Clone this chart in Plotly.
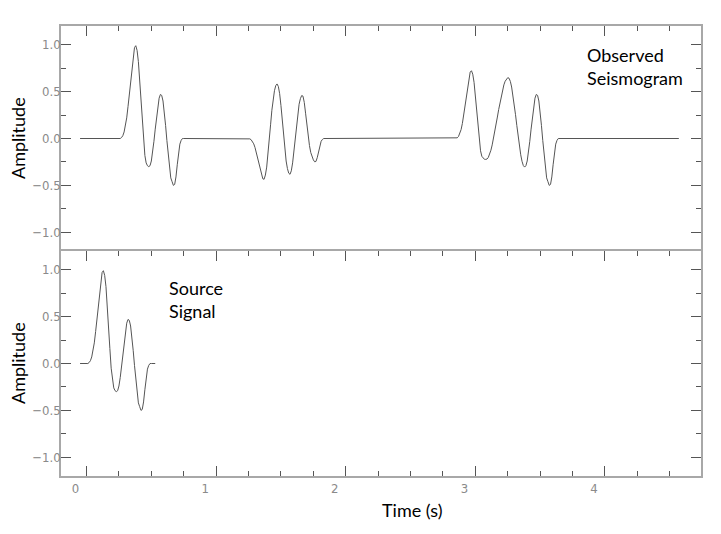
import plotly.graph_objects as go
from plotly.subplots import make_subplots

# ---------------- data ----------------
dt = 0.01  # sampling interval of the traces (s)

# Source signal samples, starting at t = 0.00 s
source_start = 0.0
source_values = [0, 0, 0.01, 0.03, 0.07, 0.13, 0.22, 0.34, 0.48, 0.62,
                 0.76, 0.88, 0.97, 0.99, 0.94, 0.82, 0.63, 0.40, 0.16, -0.05,
                 -0.18, -0.26, -0.29, -0.30, -0.29, -0.24, -0.15, -0.03, 0.10, 0.23,
                 0.35, 0.43, 0.47, 0.46, 0.40, 0.29, 0.14, -0.02, -0.18, -0.32,
                 -0.42, -0.46, -0.50, -0.49, -0.41, -0.28, -0.15, -0.06, -0.02, 0,
                 0]
source_first_time = -0.05
source_last_time = 0.53

# Observed seismogram: flat trace with three events
obs_first_time = -0.05
obs_last_time = 4.57

event1_start = 0.25
event1_values = [0, 0, 0.01, 0.03, 0.07, 0.13, 0.22, 0.34, 0.48, 0.62,
                 0.76, 0.88, 0.97, 0.99, 0.94, 0.82, 0.63, 0.40, 0.16, -0.05,
                 -0.18, -0.26, -0.29, -0.30, -0.29, -0.24, -0.15, -0.03, 0.10, 0.23,
                 0.35, 0.43, 0.47, 0.46, 0.40, 0.29, 0.14, -0.02, -0.18, -0.32,
                 -0.42, -0.46, -0.50, -0.49, -0.41, -0.28, -0.15, -0.06, -0.02, 0,
                 0]

event2_start = 1.24
event2_values = [0, 0, -0.004, -0.013, -0.031, -0.057, -0.097, -0.150, -0.211, -0.273,
                 -0.334, -0.387, -0.430, -0.435, -0.390, -0.305, -0.178, -0.023, 0.146, 0.301,
                 0.421, 0.510, 0.564, 0.582, 0.555, 0.478, 0.352, 0.193, 0.028, -0.124,
                 -0.240, -0.320, -0.370, -0.382, -0.345, -0.260, -0.140, -0.005, 0.130, 0.260,
                 0.365, 0.425, 0.458, 0.452, 0.385, 0.270, 0.135, 0.017, -0.075, -0.150,
                 -0.200, -0.228, -0.248, -0.245, -0.205, -0.140, -0.075, -0.030, -0.010, 0,
                 0]

event3_start = 2.84
event3_values = [0, 0, 0.007, 0.022, 0.051, 0.095, 0.161, 0.248, 0.350, 0.453,
                 0.555, 0.642, 0.708, 0.723, 0.686, 0.599, 0.460, 0.292, 0.117, -0.037,
                 -0.131, -0.190, -0.212, -0.222, -0.223, -0.219, -0.202, -0.170, -0.125, -0.068,
                 -0.002, 0.071, 0.149, 0.229, 0.309, 0.386, 0.457, 0.519, 0.572, 0.611,
                 0.637, 0.649, 0.643, 0.609, 0.549, 0.466, 0.366, 0.254, 0.137, 0.023,
                 -0.083, -0.174, -0.243, -0.288, -0.305, -0.29, -0.24, -0.15, -0.03, 0.10,
                 0.23, 0.35, 0.43, 0.47, 0.46, 0.40, 0.29, 0.14, -0.02, -0.18,
                 -0.32, -0.42, -0.46, -0.50, -0.49, -0.41, -0.28, -0.15, -0.06, -0.02,
                 0]

x_tick_values = [0, 1, 2, 3, 4]
x_tick_labels = ["0", "1", "2", "3", "4"]
y_tick_values = [-1.0, -0.5, 0.0, 0.5, 1.0]
y_tick_labels = ["\u22121.0", "\u22120.5", "0.0", "0.5", "1.0"]


def sample_times(start, values):
    return [round(start + i * dt, 4) for i in range(len(values))]


src_x = [source_first_time] + sample_times(source_start, source_values) + [source_last_time]
src_y = [0] + source_values + [0]

obs_x = ([obs_first_time]
         + sample_times(event1_start, event1_values)
         + sample_times(event2_start, event2_values)
         + sample_times(event3_start, event3_values)
         + [obs_last_time])
obs_y = [0] + event1_values + event2_values + event3_values + [0]

# ---------------- figure ----------------
W, H = 721, 534
ML, MR, MT, MB = 61, 20, 26, 58

fig = make_subplots(rows=2, cols=1, vertical_spacing=0)

line_style = dict(color="#555555", width=1)
fig.add_trace(go.Scatter(x=obs_x, y=obs_y, mode="lines", line=line_style,
                         hoverinfo="skip", showlegend=False), row=1, col=1)
fig.add_trace(go.Scatter(x=src_x, y=src_y, mode="lines", line=line_style,
                         hoverinfo="skip", showlegend=False), row=2, col=1)

frame_color = "#a8a8a8"
tick_color = "#555555"
tick_font = dict(family="Liberation Sans Narrow, Arial Narrow, DejaVu Sans Condensed, sans-serif",
                 size=13, color="#8a8a8a")
x_range = [-0.197, 4.741]

x_common = dict(range=x_range, tickmode="array", tickvals=x_tick_values, ticktext=x_tick_labels,
                ticks="inside", ticklen=10, tickwidth=1, tickcolor=tick_color,
                minor=dict(tickmode="linear", tick0=0, dtick=0.25, ticks="inside", ticklen=5,
                           tickwidth=1, tickcolor=tick_color, showgrid=False),
                showline=True, linecolor=frame_color, linewidth=1.5,
                showgrid=False, zeroline=False, tickfont=tick_font, fixedrange=True)

y_common = dict(range=[-1.2, 1.2], tickmode="array", tickvals=y_tick_values, ticktext=y_tick_labels,
                ticks="inside", ticklen=10, tickwidth=1, tickcolor=tick_color,
                minor=dict(tickmode="linear", tick0=0, dtick=0.25, ticks="inside", ticklen=5,
                           tickwidth=1, tickcolor=tick_color, showgrid=False),
                showline=True, linecolor=frame_color, linewidth=1.5, mirror="ticks",
                showgrid=False, zeroline=False, tickfont=tick_font, fixedrange=True,
                ticklabelstandoff=-4)

fig.update_xaxes(**x_common, side="top", showticklabels=False, mirror=False, row=1, col=1)
fig.update_xaxes(**x_common, side="bottom", showticklabels=True, mirror="ticks",
                 ticklabelshift=-11, row=2, col=1)
fig.update_yaxes(**y_common, domain=[0.5, 1.0], row=1, col=1)
fig.update_yaxes(**y_common, domain=[0.0, 0.5], row=2, col=1)

text_font = dict(family="Lato, Noto Sans, sans-serif", size=18, color="#000000")
pw = W - ML - MR
ph = H - MT - MB

def px_to_paper_x(px):
    return (px - ML) / pw

def px_to_paper_y(py):
    return (H - MB - py) / ph

annotations = [
    dict(text="Amplitude", textangle=-90, x=px_to_paper_x(18), y=px_to_paper_y(138),
         xref="paper", yref="paper", xanchor="center", yanchor="middle", showarrow=False,
         font=text_font),
    dict(text="Amplitude", textangle=-90, x=px_to_paper_x(18), y=px_to_paper_y(363),
         xref="paper", yref="paper", xanchor="center", yanchor="middle", showarrow=False,
         font=text_font),
    dict(text="Time (s)", x=px_to_paper_x(412), y=px_to_paper_y(510),
         xref="paper", yref="paper", xanchor="center", yanchor="middle", showarrow=False,
         font=text_font),
    dict(text="Observed<br>Seismogram", x=3.849, y=0.77, xref="x", yref="y",
         xanchor="left", yanchor="middle", align="left", showarrow=False, font=text_font),
    dict(text="Source<br>Signal", x=0.622, y=0.685, xref="x2", yref="y2",
         xanchor="left", yanchor="middle", align="left", showarrow=False, font=text_font),
]

fig.update_layout(width=W, height=H, margin=dict(l=ML, r=MR, t=MT, b=MB),
                  paper_bgcolor="white", plot_bgcolor="white", annotations=annotations,
                  showlegend=False)

fig.write_html("out.html", config={"displayModeBar": False},
               post_script="document.body.style.margin='0px';")
